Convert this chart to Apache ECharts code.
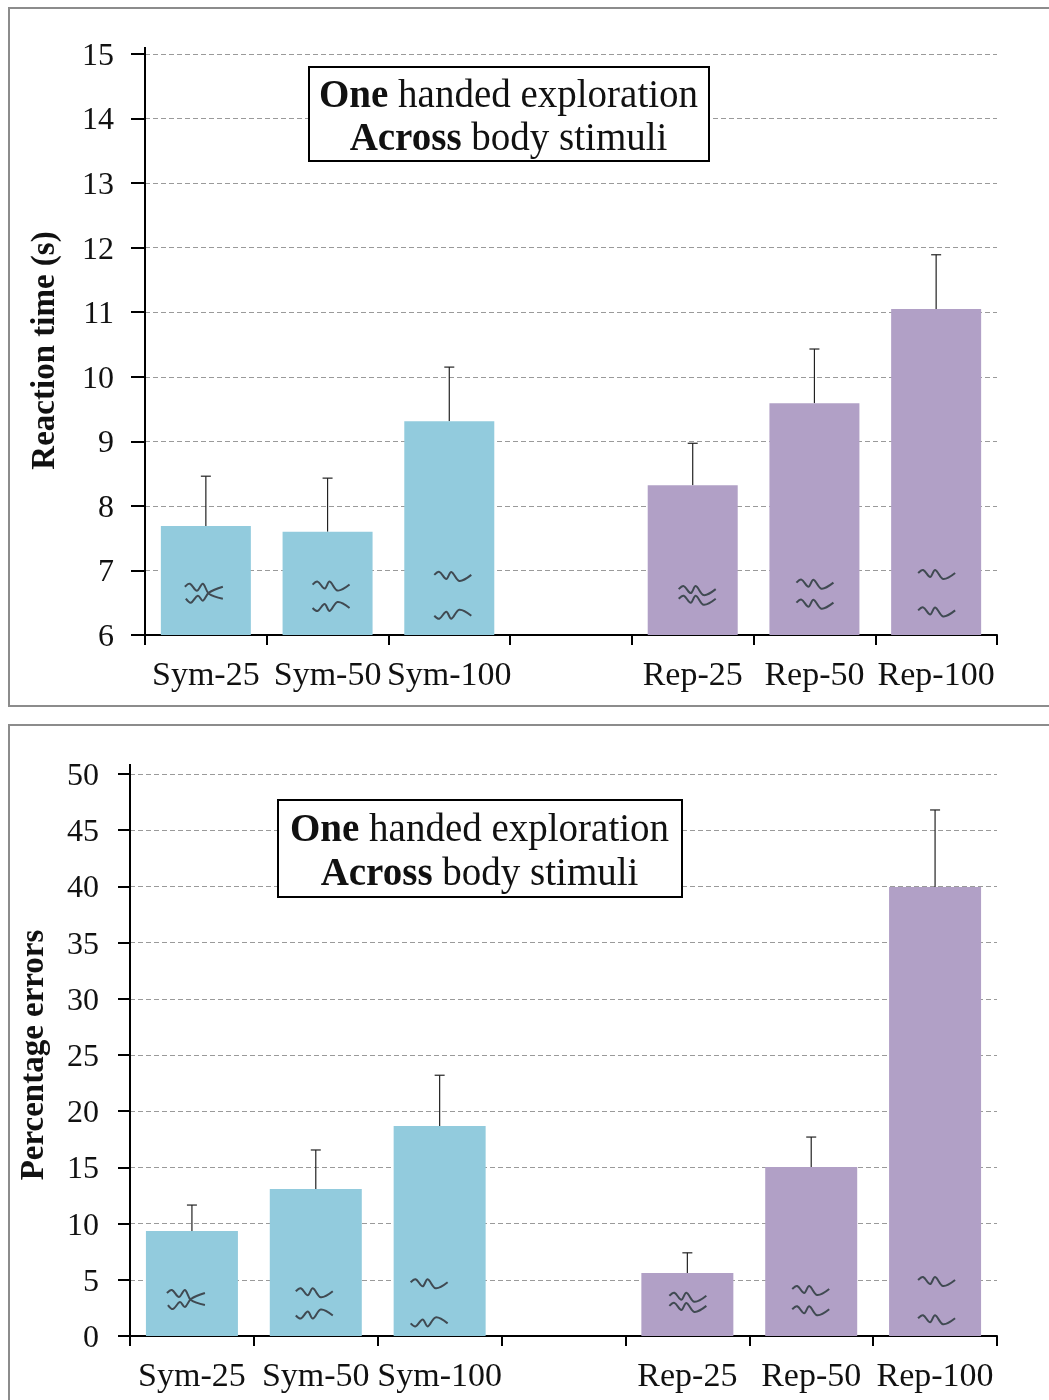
<!DOCTYPE html>
<html><head><meta charset="utf-8">
<style>html,body{margin:0;padding:0;background:#fff}#c{width:1049px;height:1400px}</style>
<script src="https://cdn.jsdelivr.net/npm/echarts@6/dist/echarts.min.js"></script>
</head><body><div id="c"></div>
<script>
const categories = ['Sym-25','Sym-50','Sym-100','','Rep-25','Rep-50','Rep-100'];
const rtValues = [7.69,7.6,9.31,null,8.32,9.59,11.05];
const rtErrTops = [8.46,8.43,10.15,null,8.97,10.43,11.89];
const errValues = [9.34,13.08,18.68,null,5.6,15.04,39.95];
const errErrTops = [11.65,16.55,23.2,null,7.4,17.7,46.8];
// squiggle heights on each chart's value axis: [category index, value, shape]
const rtSquiggles = [[0,6.64,2],[0,6.64,3],[1,6.75,0],[1,6.45,1],[2,6.9,0],[2,6.33,1],[4,6.68,0],[4,6.53,0],[5,6.78,0],[5,6.47,0],[6,6.93,0],[6,6.35,0]];
const errSquiggles = [[0,3.2,2],[0,3.2,3],[1,3.8,0],[1,2.0,1],[2,4.6,0],[2,1.3,1],[4,3.4,0],[4,2.5,0],[5,4.0,0],[5,2.2,0],[6,4.8,0],[6,1.4,0]];
// horizontal nudge of the squiggles from the bar centre, per category
const rtSquiggleDx = [-2,3,3,0,4,0,0];
const errSquiggleDx = [-6,-2,-11,0,0,-1,1];
const squiggleShapes = [
  [[-18,-2],[-13,-5],[-6,2],[-1,-5],[7,4],[19,-2]],
  [[-18,2],[-13,5],[-6,-2],[-1,5],[7,-4],[19,2]],
  [[-19,-7],[-14,-10],[-7,-3],[-1,-10],[5,0],[19,5]],
  [[-18,5],[-13,9],[-6,2],[-1,7],[5,-1],[19,-7]]
];
const titleText = '{b|One}{r| handed exploration}\n{b|Across}{r| body stimuli}';
const colors = {sym:'#92CBDD', rep:'#B1A0C6'};
const serif = '"Liberation Serif","Times New Roman",serif';

function barData(vals){
  return vals.map((v,i)=>({value:v, itemStyle:{color:i<3?colors.sym:colors.rep}}));
}
function errSeries(vals,tops,idx){
  return {type:'custom',xAxisIndex:idx,yAxisIndex:idx,z:1,encode:{x:0,y:[1,2]},silent:true,
    data:tops.map((t,i)=>[i,vals[i],t]).filter(d=>d[2]!==null),
    renderItem(p,api){
      const a=api.coord([api.value(0),api.value(1)]),b=api.coord([api.value(0),api.value(2)]);
      const st={stroke:'#222',lineWidth:1.2,fill:null};
      return {type:'group',children:[
        {type:'line',shape:{x1:a[0],y1:a[1],x2:b[0],y2:b[1]},style:st},
        {type:'line',shape:{x1:b[0]-5,y1:b[1],x2:b[0]+5,y2:b[1]},style:st}
      ]};
    }};
}
function squiggleSeries(data,dx,idx){
  return {type:'custom',xAxisIndex:idx,yAxisIndex:idx,z:4,encode:{x:0,y:1},silent:true,data:data,
    renderItem(p,api){
      const c=api.coord([api.value(0),api.value(1)]);
      const off=dx[api.value(0)];
      const pts=squiggleShapes[api.value(2)].map(q=>[c[0]+off+q[0],c[1]+q[1]]);
      return {type:'polyline',shape:{points:pts,smooth:0.35},style:{stroke:'#404a52',lineWidth:2,fill:null}};
    }};
}
function xAxis(idx){
  return {type:'category',gridIndex:idx,data:categories,boundaryGap:true,
    axisLine:{lineStyle:{color:'#000',width:2}},
    axisTick:{show:true,length:10,alignWithLabel:false,lineStyle:{color:'#000',width:2}},
    axisLabel:{interval:0,margin:24,color:'#111',fontFamily:serif,fontSize:34},
    splitLine:{show:false}};
}
function yAxis(idx,min,max,interval,name,gap,tick,namePad){
  return {type:'value',gridIndex:idx,min,max,interval,name,nameLocation:'middle',nameGap:gap,
    nameRotate:90,nameTextStyle:{color:'#111',fontFamily:serif,fontSize:33,fontWeight:'bold',padding:namePad},
    axisLine:{show:true,lineStyle:{color:'#000',width:2}},
    axisTick:{show:true,length:tick,lineStyle:{color:'#000',width:2}},
    axisLabel:{margin:31,color:'#111',fontFamily:serif,fontSize:32,verticalAlign:'top',lineHeight:5},
    splitLine:{show:true,lineStyle:{color:'#9a9a9a',width:1,type:[5,3]}}};
}
function title(left,top,padding,lh){
  const tok={fontFamily:serif,fontSize:39,lineHeight:lh,align:'center',color:'#111'};
  return {text:titleText,left,top,padding,borderColor:'#000',borderWidth:2,backgroundColor:'#fff',z:6,
    textStyle:{color:'#111',fontFamily:serif,fontSize:39,fontWeight:'normal',lineHeight:lh,
      rich:{b:Object.assign({fontWeight:'bold'},tok),r:Object.assign({fontWeight:'normal'},tok)}}};
}
const chart=echarts.init(document.getElementById('c'),null,{renderer:'canvas'});
chart.setOption({
  animation:false,backgroundColor:'#fff',
  title:[title(309,67,[8,11,0,10],43),title(278,800,[9,13,0,12],44)],
  grid:[{left:145,right:52,top:54,height:581,outerBoundsMode:'none'},
        {left:130,right:52,top:774,height:562,outerBoundsMode:'none'}],
  xAxis:[xAxis(0),xAxis(1)],
  yAxis:[yAxis(0,6,15,1,'Reaction time (s)',83,14,[0,12,0,0]),yAxis(1,0,50,5,'Percentage errors',79,12,[0,0,0,0])],
  series:[
    {type:'bar',xAxisIndex:0,yAxisIndex:0,barWidth:90,z:3,data:barData(rtValues),silent:true},
    {type:'bar',xAxisIndex:1,yAxisIndex:1,barWidth:92,z:3,data:barData(errValues),silent:true},
    errSeries(rtValues,rtErrTops,0),errSeries(errValues,errErrTops,1),
    squiggleSeries(rtSquiggles,rtSquiggleDx,0),squiggleSeries(errSquiggles,errSquiggleDx,1)
  ],
  graphic:[
    {type:'rect',silent:true,z:0,shape:{x:9,y:8,width:1060,height:698},style:{fill:null,stroke:'#8c8c8c',lineWidth:2}},
    {type:'rect',silent:true,z:0,shape:{x:9,y:725,width:1060,height:700},style:{fill:null,stroke:'#8c8c8c',lineWidth:2}},
    {type:'line',silent:true,z:5,shape:{x1:145,y1:47,x2:145,y2:54},style:{stroke:'#000',lineWidth:2}},
    {type:'line',silent:true,z:5,shape:{x1:130,y1:764,x2:130,y2:774},style:{stroke:'#000',lineWidth:2}}
  ]
});
</script></body></html>
